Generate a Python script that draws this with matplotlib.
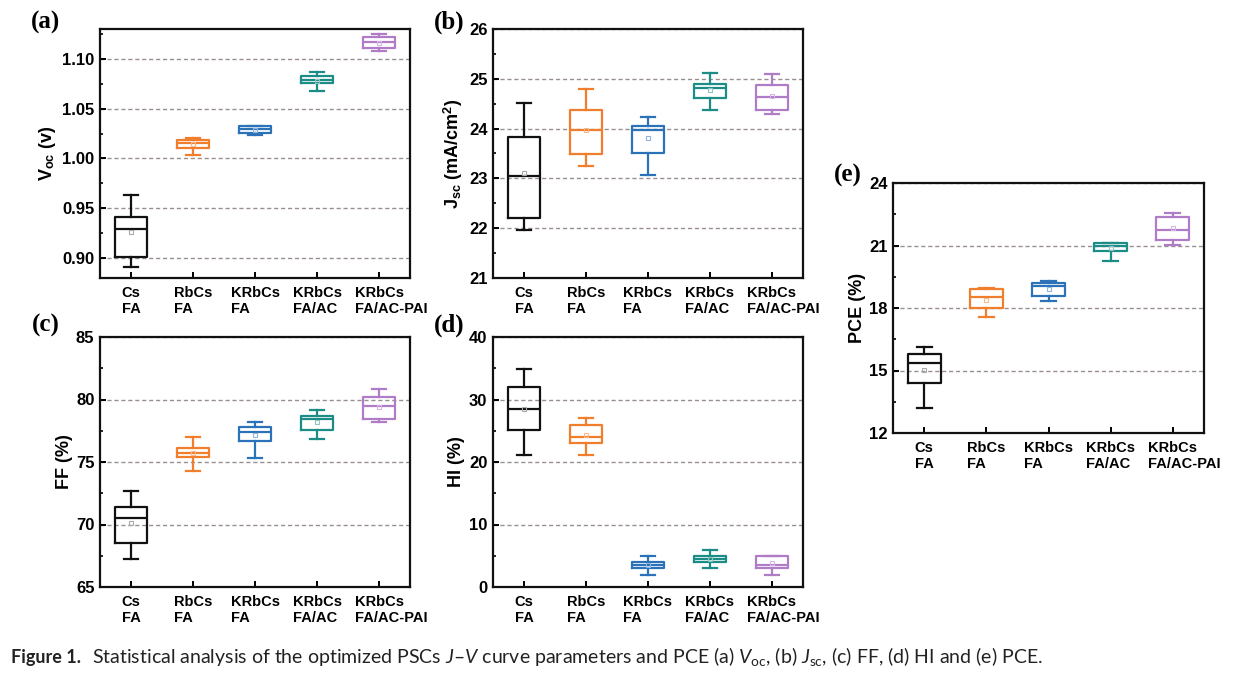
import matplotlib
matplotlib.use("Agg")
import matplotlib.pyplot as plt
from matplotlib.ticker import MultipleLocator, AutoMinorLocator
from matplotlib.transforms import blended_transform_factory, offset_copy

plt.rcParams['font.family'] = ['Liberation Sans', 'DejaVu Sans']
plt.rcParams['mathtext.fontset'] = 'custom'
plt.rcParams['mathtext.bf'] = 'Liberation Sans:bold'
plt.rcParams['mathtext.rm'] = 'Lato'
plt.rcParams['mathtext.it'] = 'Lato:italic'

categories = ["Cs\nFA", "RbCs\nFA", "KRbCs\nFA", "KRbCs\nFA/AC", "KRbCs\nFA/AC-PAI"]
colors = ["#111111", "#F07E2C", "#2B72B9", "#1C8C86", "#B07CC8"]
mean_colors = ["#AAAAAA", "#F8B98A", "#8FB6DE", "#8CC5C1", "#D4B6E2"]

# each row: [whisker low, Q1, median, Q3, whisker high, mean]
voc_stats = [
    [0.891, 0.901, 0.929, 0.941, 0.963, 0.926],
    [1.003, 1.011, 1.0155, 1.019, 1.021, 1.015],
    [1.024, 1.026, 1.0297, 1.0327, 1.033, 1.029],
    [1.068, 1.0755, 1.0786, 1.0826, 1.0873, 1.078],
    [1.108, 1.1107, 1.117, 1.1224, 1.1245, 1.116],
]
jsc_stats = [
    [21.97, 22.20, 23.04, 23.83, 24.52, 23.11],
    [23.25, 23.49, 23.98, 24.38, 24.80, 23.98],
    [23.07, 23.51, 23.97, 24.06, 24.24, 23.82],
    [24.38, 24.62, 24.81, 24.90, 25.11, 24.77],
    [24.30, 24.38, 24.63, 24.87, 25.09, 24.65],
]
ff_stats = [
    [67.24, 68.50, 70.51, 71.42, 72.65, 70.10],
    [74.32, 75.42, 75.74, 76.14, 77.02, 75.74],
    [75.36, 76.70, 77.37, 77.77, 78.23, 77.20],
    [76.86, 77.56, 78.47, 78.69, 79.20, 78.20],
    [78.23, 78.42, 79.46, 80.19, 80.83, 79.38],
]
hi_stats = [
    [21.05, 25.07, 28.55, 31.98, 34.93, 28.50],
    [21.05, 23.03, 24.05, 25.98, 27.00, 24.40],
    [1.90, 2.98, 3.51, 3.94, 4.96, 3.50],
    [2.98, 3.94, 4.48, 5.01, 5.98, 4.50],
    [1.90, 2.98, 3.51, 4.96, 4.96, 3.80],
]
pce_stats = [
    [13.19, 14.39, 15.37, 15.77, 16.12, 15.02],
    [17.58, 17.98, 18.51, 18.90, 18.96, 18.38],
    [18.35, 18.56, 19.06, 19.22, 19.30, 18.93],
    [20.28, 20.74, 20.98, 21.10, 21.14, 20.87],
    [21.03, 21.26, 21.74, 22.38, 22.56, 21.83],
]

W, H = 1236, 676
fig = plt.figure(figsize=(W / 100, H / 100), dpi=100)
renderer = fig.canvas.get_renderer()


def make_ax(left, top, right, bottom):
    return fig.add_axes([left / W, 1 - bottom / H, (right - left) / W, (bottom - top) / H])


panels = [
    dict(stats=voc_stats, box=(100, 29, 410, 278), ylim=(0.88, 1.13), major=0.05,
         fmt="{:.2f}", ylabel=r"V$_{\mathbf{oc}}$ (v)", labx=-0.135, letter="(a)", lpos=(46, 22)),
    dict(stats=jsc_stats, box=(493, 29, 803, 278), ylim=(21, 26), major=1,
         fmt="{:.0f}", ylabel=r"J$_{\mathbf{sc}}$ (mA/cm$^{\mathbf{2}}$)", labx=-0.09, letter="(b)", lpos=(449, 22)),
    dict(stats=ff_stats, box=(100, 337, 410, 587), ylim=(65, 85), major=5,
         fmt="{:.0f}", ylabel="FF (%)", labx=-0.087, letter="(c)", lpos=(46, 325)),
    dict(stats=hi_stats, box=(493, 337, 803, 587), ylim=(0, 40), major=10,
         fmt="{:.0f}", ylabel="HI (%)", labx=-0.09, letter="(d)", lpos=(449, 325)),
    dict(stats=pce_stats, box=(893, 183, 1204, 433), ylim=(12, 24), major=3,
         fmt="{:.0f}", ylabel="PCE (%)", labx=-0.087, letter="(e)", lpos=(848, 175)),
]

positions = list(range(1, len(categories) + 1))
CAT_FS = 10.5

for p in panels:
    ax = make_ax(*p["box"])
    for i, row in enumerate(p["stats"]):
        lo, q1, med, q3, hi, mn = row
        st = [dict(whislo=lo, q1=q1, med=med, q3=q3, whishi=hi, mean=mn, fliers=[])]
        c = colors[i]
        ax.bxp(st, positions=[positions[i]], widths=0.53, capwidths=0.24,
               showmeans=True, showfliers=False, manage_ticks=False,
               boxprops=dict(color=c, linewidth=1.6),
               whiskerprops=dict(color=c, linewidth=1.6),
               capprops=dict(color=c, linewidth=1.6),
               medianprops=dict(color=c, linewidth=1.6),
               meanprops=dict(marker='s', markersize=3, markerfacecolor='none',
                              markeredgecolor=mean_colors[i], markeredgewidth=0.8))
    ax.set_xlim(0.5, 5.5)
    ax.set_ylim(*p["ylim"])
    ax.yaxis.set_major_locator(MultipleLocator(p["major"]))
    ax.yaxis.set_minor_locator(AutoMinorLocator(2))
    ax.yaxis.set_major_formatter(plt.FuncFormatter(lambda v, pos, f=p["fmt"]: f.format(v)))
    ax.set_xticks(positions)
    ax.set_xticklabels([])
    ax.grid(axis='y', which='major', linestyle=(0, (3, 2)), color='#9A8F8F', linewidth=1.0)
    ax.set_axisbelow(True)
    for sp in ax.spines.values():
        sp.set_linewidth(1.6)
        sp.set_color('#111111')
    ax.tick_params(axis='both', which='major', direction='in', length=4, width=1.4,
                   labelsize=12, pad=4)
    ax.tick_params(axis='y', which='minor', direction='in', length=2.5, width=1.2)
    ax.tick_params(axis='x', which='minor', bottom=False)
    for lab in ax.get_yticklabels():
        lab.set_fontweight('bold')
    ax.set_ylabel(p["ylabel"], fontsize=13, fontweight='bold')
    ax.yaxis.set_label_coords(p["labx"], 0.5)

    # category labels: first line centred on the tick, following lines left-aligned with it
    trans = blended_transform_factory(ax.transData, ax.transAxes)
    for x, cat in zip(positions, categories):
        first = cat.split("\n")[0]
        probe = ax.text(x, 0, first, fontsize=CAT_FS, fontweight='bold', transform=trans)
        w_px = probe.get_window_extent(renderer).width
        probe.remove()
        t = offset_copy(trans, fig=fig, x=-w_px / 2 * 72 / fig.dpi, y=-6, units='points')
        ax.text(x, 0, cat, fontsize=CAT_FS, fontweight='bold', ha='left', va='top',
                multialignment='left', linespacing=1.15, transform=t)

    fig.text(p["lpos"][0] / W, 1 - p["lpos"][1] / H, p["letter"], fontsize=18,
             fontweight='bold', family='Liberation Serif', ha='center', va='center')

fig.text(11 / W, 1 - 657 / H, "Figure 1.", fontsize=13, fontweight='bold',
         family='Lato', color='#222222', ha='left', va='center')
fig.text(92 / W, 1 - 657 / H,
         r"Statistical analysis of the optimized PSCs $J$–$V$ curve parameters and PCE "
         r"(a) $V_{\mathrm{oc}}$, (b) $J_{\mathrm{sc}}$, (c) FF, (d) HI and (e) PCE.",
         fontsize=14, family='Lato', color='#222222', ha='left', va='center')

fig.savefig("out.png", dpi=100)
